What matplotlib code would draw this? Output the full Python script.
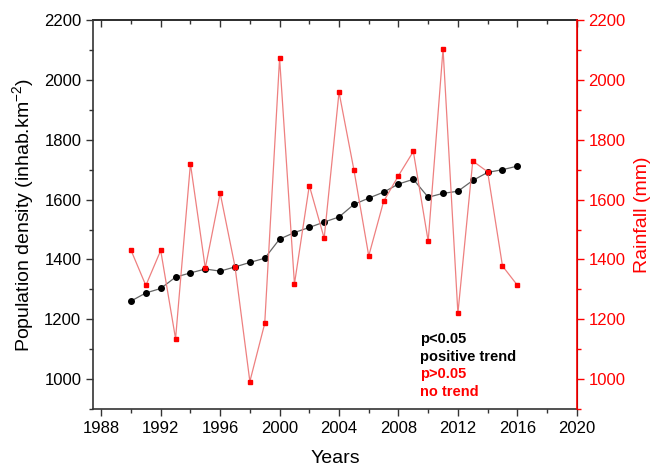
import numpy as np
import matplotlib.pyplot as plt
from matplotlib.ticker import MultipleLocator

plt.rcParams['font.family'] = ['Liberation Sans', 'DejaVu Sans']
plt.rcParams['mathtext.fontset'] = 'custom'
plt.rcParams['mathtext.rm'] = 'Liberation Sans'
plt.rcParams['mathtext.it'] = 'Liberation Sans:italic'
plt.rcParams['mathtext.bf'] = 'Liberation Sans:bold'

years = list(range(1990, 2017))
population = [1261, 1288, 1303, 1341, 1355, 1368, 1361, 1375, 1390, 1404,
              1468, 1490, 1507, 1525, 1542, 1584, 1605, 1625, 1652, 1668,
              1608, 1621, 1628, 1664, 1691, 1700, 1712]
rainfall = [1431, 1313, 1430, 1135, 1720, 1371, 1622, 1376, 992, 1186,
            2073, 1318, 1647, 1471, 1959, 1700, 1412, 1594, 1680, 1761,
            1461, 2104, 1220, 1729, 1693, 1378, 1314]

fig = plt.figure(figsize=(6.51, 4.68), dpi=100)
ax = fig.add_axes([0.143, 0.126, 0.743, 0.831])

ax.plot(years, population, color='#666666', lw=0.9, marker='o', ms=4,
        mfc='black', mec='black', zorder=3)
ax.set_xlim(1987.45, 2020)
ax.set_ylim(900, 2200)
ax.xaxis.set_major_locator(MultipleLocator(4))
ax.xaxis.set_minor_locator(MultipleLocator(2))
ax.yaxis.set_major_locator(MultipleLocator(200))
ax.yaxis.set_minor_locator(MultipleLocator(100))
ax.tick_params(axis='both', which='major', direction='out', length=5,
               width=1, labelsize=12, color='#333333')
ax.tick_params(axis='both', which='minor', direction='out', length=3,
               width=1, color='#333333')
for s in ['left', 'bottom', 'top']:
    ax.spines[s].set_linewidth(1.2)
    ax.spines[s].set_color('#333333')

top = ax.secondary_xaxis('top')
top.xaxis.set_major_locator(MultipleLocator(4))
top.xaxis.set_minor_locator(MultipleLocator(2))
top.tick_params(which='major', direction='in', length=5, width=1,
                labeltop=False, color='#333333')
top.tick_params(which='minor', direction='in', length=3, width=1,
                color='#333333')
top.spines['top'].set_linewidth(1.2)

ax.set_xlabel('Years', fontsize=14, labelpad=10)
ax.set_ylabel('Population density (inhab.km$^{-2}$)', fontsize=14, labelpad=6)

ax2 = ax.twinx()
ax2.plot(years, rainfall, color='#ee8080', lw=0.9, marker='s', ms=3.5,
         mfc='red', mec='red', zorder=4)
ax2.set_ylim(900, 2200)
ax2.yaxis.set_major_locator(MultipleLocator(200))
ax2.yaxis.set_minor_locator(MultipleLocator(100))
ax2.tick_params(axis='y', which='major', direction='out', length=5, width=1,
                labelsize=12, color='red', labelcolor='red')
ax2.tick_params(axis='y', which='minor', direction='out', length=3, width=1,
                color='red')
ax2.spines['right'].set_color('red')
ax2.spines['right'].set_linewidth(1.2)
ax2.spines['left'].set_visible(False)
ax2.spines['top'].set_visible(False)
ax2.spines['bottom'].set_visible(False)
ax2.set_ylabel('Rainfall (mm)', fontsize=14, color='red', labelpad=6)

notes = [('p<0.05', 'black'), ('positive trend', 'black'),
         ('p>0.05', 'red'), ('no trend', 'red')]
for i, (txt, c) in enumerate(notes):
    ax2.text(0.675, 0.18 - i * 0.045, txt, transform=ax2.transAxes,
             fontsize=10.5, fontweight='bold', color=c, va='center')

fig.savefig('out.png', dpi=100)
